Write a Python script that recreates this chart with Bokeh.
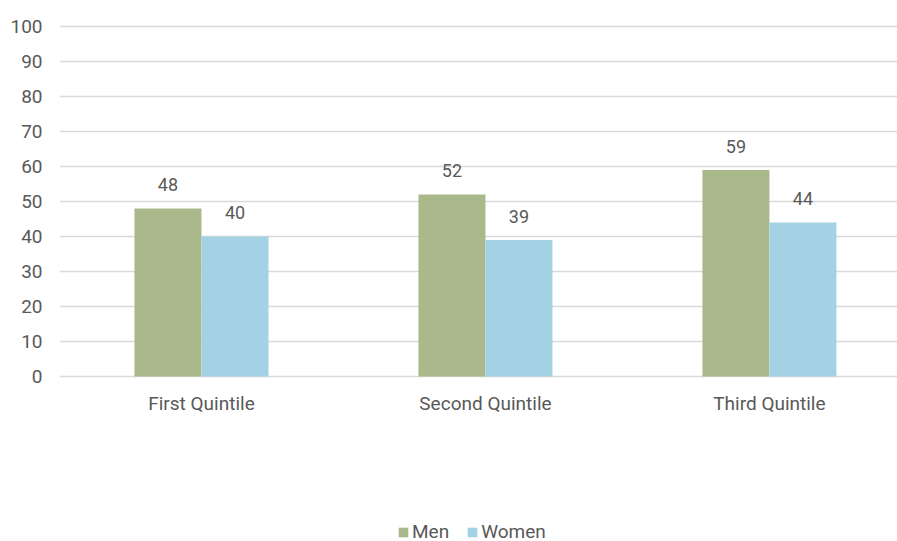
from bokeh.plotting import figure
from bokeh.models import ColumnDataSource, Range1d, FixedTicker, LabelSet, Legend, LegendItem
from bokeh.core.properties import value
from bokeh.embed import file_html
from bokeh.resources import INLINE

categories = ["First Quintile", "Second Quintile", "Third Quintile"]
men = [48, 52, 59]
women = [40, 39, 44]
y_ticks = [0, 10, 20, 30, 40, 50, 60, 70, 80, 90, 100]

FONT = "Roboto"
TXT = "#595959"
MEN_C = "#a9b98c"
WOMEN_C = "#a4d2e5"

pos = [i + 0.5 for i in range(len(categories))]
bw = 0.236
src = ColumnDataSource(dict(
    x_m=[p - bw / 2 for p in pos], x_w=[p + bw / 2 for p in pos],
    men=men, women=women,
    men_lbl=[str(v) for v in men], women_lbl=[str(v) for v in women],
))
cat_src = ColumnDataSource(dict(x=pos, y=[0] * len(categories), cat=categories))

p = figure(width=897, height=541, output_backend="svg", toolbar_location=None,
           x_axis_location=None,
           x_range=Range1d(0, 2.951), y_range=Range1d(-47.14, 101.14),
           min_border_left=59, min_border_right=0, min_border_top=22, min_border_bottom=0)
p.outline_line_color = None
p.background_fill_color = "white"

r_m = p.vbar(x="x_m", top="men", width=bw, bottom=0, source=src, fill_color=MEN_C, line_color=None)
r_w = p.vbar(x="x_w", top="women", width=bw, bottom=0, source=src, fill_color=WOMEN_C, line_color=None)

for col, xcol in (("men", "x_m"), ("women", "x_w")):
    p.add_layout(LabelSet(x=xcol, y=col, text=col + "_lbl", source=src, y_offset=17,
                          text_align="center", text_baseline="bottom",
                          text_font=value(FONT), text_font_size="18px", text_color=TXT))

# category labels under the baseline
p.add_layout(LabelSet(x="x", y="y", text="cat", source=cat_src, y_offset=-15,
                      text_align="center", text_baseline="top",
                      text_font=value(FONT), text_font_size="19px", text_color=TXT))

p.xgrid.grid_line_color = None
p.ygrid.grid_line_color = "#d9d9d9"
p.ygrid.grid_line_width = 1.5
p.yaxis.ticker = FixedTicker(ticks=y_ticks)
p.yaxis.axis_line_color = None
p.yaxis.major_tick_line_color = None
p.yaxis.minor_tick_line_color = None
p.yaxis.major_label_standoff = 11
p.yaxis.major_label_text_font = FONT
p.yaxis.major_label_text_font_size = "19px"
p.yaxis.major_label_text_color = TXT

legend = Legend(items=[LegendItem(label="Men", renderers=[r_m]),
                       LegendItem(label="Women", renderers=[r_w])],
                orientation="horizontal", location=(338, -2),
                glyph_width=12, glyph_height=12, label_standoff=3, spacing=17,
                label_text_font=FONT, label_text_font_size="19px", label_text_color=TXT,
                border_line_color=None, background_fill_alpha=0, padding=0, margin=0)
p.add_layout(legend, "center")

open("out.html", "w").write(file_html(p, INLINE))
